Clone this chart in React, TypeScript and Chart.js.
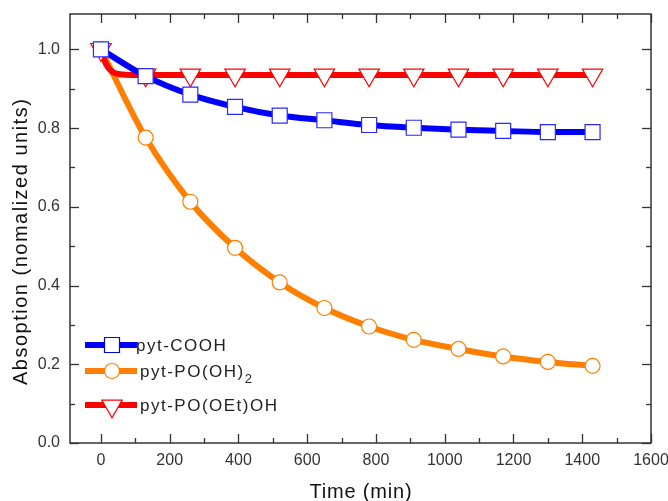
import React, { useEffect, useRef } from 'react';
import { Chart, registerables } from 'chart.js';

Chart.register(...registerables);

// ---- data ----
const timeMin = [0, 130, 260, 390, 520, 650, 780, 910, 1040, 1170, 1300, 1430];
const coohValues = [1.0, 0.932, 0.885, 0.854, 0.832, 0.82, 0.808, 0.801, 0.796, 0.793, 0.79, 0.79];
const poOH2Values = [1.0, 0.776, 0.613, 0.496, 0.408, 0.343, 0.296, 0.262, 0.239, 0.22, 0.206, 0.196];
const poOEtOHValues = [1.0, 0.935, 0.935, 0.935, 0.935, 0.935, 0.935, 0.935, 0.935, 0.935, 0.935, 0.935];
// fitted curve for pyt-PO(OEt)OH (sharp drop right after t=0)
const poOEtOHFitTime = [0, 10, 20, 35, 55, 90, 1430];
const poOEtOHFitValues = [1.0, 0.972, 0.955, 0.942, 0.937, 0.935, 0.935];

const xTickValues = [0, 200, 400, 600, 800, 1000, 1200, 1400, 1600];
const xMinorTicks = [100, 300, 500, 700, 900, 1100, 1300, 1500];
const yTickValues = [0, 0.2, 0.4, 0.6, 0.8, 1.0];
const yMinorTicks = [0.1, 0.3, 0.5, 0.7, 0.9];

const seriesNames = ['pyt-COOH', 'pyt-PO(OH)', 'pyt-PO(OEt)OH'];
const seriesSubscripts = ['', '2', ''];
const seriesColors = ['#0000ff', '#ff7f00', '#ff0000'];
const seriesMarkers = ['rect', 'circle', 'triangleDown'];

const xTitle = 'Time (min)';
const yTitle = 'Absoption (nomalized units)';

const FONT = '"Liberation Sans", Arial, sans-serif';

function drawMarker(ctx: CanvasRenderingContext2D, kind: string, x: number, y: number, color: string) {
  ctx.save();
  ctx.fillStyle = '#ffffff';
  ctx.strokeStyle = color;
  ctx.lineWidth = 1.2;
  ctx.beginPath();
  if (kind === 'rect') {
    ctx.rect(x - 7.5, y - 7.5, 15, 15);
  } else if (kind === 'circle') {
    ctx.arc(x, y, 7.5, 0, Math.PI * 2);
  } else {
    const r = 11.8;
    ctx.moveTo(x - r * 0.866, y - r / 2);
    ctx.lineTo(x + r * 0.866, y - r / 2);
    ctx.lineTo(x, y + r);
    ctx.closePath();
  }
  ctx.fill();
  ctx.stroke();
  ctx.restore();
}

const framePlugin = {
  id: 'frameAndTicks',
  afterDraw(chart: any) {
    const { ctx, chartArea, scales } = chart;
    const { left, right, top, bottom } = chartArea;
    const xs = scales.x;
    const ys = scales.y;
    ctx.save();
    ctx.strokeStyle = '#333333';
    ctx.lineWidth = 1.5;
    ctx.strokeRect(left, top, right - left, bottom - top);
    ctx.lineWidth = 1.3;
    const seg = (x1: number, y1: number, x2: number, y2: number) => {
      ctx.beginPath();
      ctx.moveTo(x1, y1);
      ctx.lineTo(x2, y2);
      ctx.stroke();
    };
    xTickValues.forEach((v) => {
      const px = Math.round(xs.getPixelForValue(v)) + 0.5;
      seg(px, bottom, px, bottom - 9);
      seg(px, top, px, top + 9);
    });
    xMinorTicks.forEach((v) => {
      const px = Math.round(xs.getPixelForValue(v)) + 0.5;
      seg(px, bottom, px, bottom - 5);
      seg(px, top, px, top + 5);
    });
    yTickValues.forEach((v) => {
      const py = Math.round(ys.getPixelForValue(v)) + 0.5;
      seg(left, py, left + 9, py);
      seg(right, py, right - 9, py);
    });
    yMinorTicks.forEach((v) => {
      const py = Math.round(ys.getPixelForValue(v)) + 0.5;
      seg(left, py, left + 5, py);
      seg(right, py, right - 5, py);
    });

    // axis titles
    ctx.fillStyle = '#111111';
    ctx.textAlign = 'center';
    ctx.textBaseline = 'alphabetic';
    ctx.font = `20px ${FONT}`;
    (ctx as any).letterSpacing = '0.8px';
    ctx.fillText(xTitle, (left + right) / 2 + 0.5, bottom + 55);

    ctx.save();
    ctx.translate(left - 43, bottom - 58);
    ctx.rotate(-Math.PI / 2);
    ctx.textAlign = 'left';
    ctx.font = `20px ${FONT}`;
    (ctx as any).letterSpacing = '1.5px';
    ctx.fillText(yTitle, 0, 0);
    ctx.restore();
    (ctx as any).letterSpacing = '0px';
    ctx.restore();
  },
};

const legendPlugin = {
  id: 'innerLegend',
  afterDatasetsDraw(chart: any) {
    const { ctx, chartArea } = chart;
    const left = chartArea.left;
    const rowsY = [chartArea.top + 331, chartArea.top + 357, chartArea.top + 391];
    const lineX0 = left + 15;
    const lineX1 = left + 67;
    const markX = left + 42;
    const textX = [left + 66, left + 70, left + 70];
    ctx.save();
    seriesNames.forEach((name, i) => {
      const y = rowsY[i];
      ctx.strokeStyle = seriesColors[i];
      ctx.lineWidth = 6;
      ctx.beginPath();
      ctx.moveTo(lineX0, y);
      ctx.lineTo(lineX1, y);
      ctx.stroke();
      drawMarker(ctx, seriesMarkers[i], markX, seriesMarkers[i] === 'triangleDown' ? y + 1 : y, seriesColors[i]);
      ctx.fillStyle = '#222222';
      ctx.textBaseline = 'middle';
      ctx.textAlign = 'left';
      (ctx as any).letterSpacing = '1.5px';
      ctx.font = `17px ${FONT}`;
      ctx.fillText(name, textX[i], y + 1);
      if (seriesSubscripts[i]) {
        const w = ctx.measureText(name).width;
        ctx.font = `13px ${FONT}`;
        ctx.fillText(seriesSubscripts[i], textX[i] + w, y + 8);
      }
      (ctx as any).letterSpacing = '0px';
    });
    ctx.restore();
  },
};

function pts(xs: number[], ys: number[]) {
  return xs.map((x, i) => ({ x, y: ys[i] }));
}

export default function App() {
  const canvasRef = useRef<HTMLCanvasElement | null>(null);

  useEffect(() => {
    const canvas = canvasRef.current;
    if (!canvas) return;
    const chart = new Chart(canvas, {
      type: 'line',
      data: {
        datasets: [
          {
            label: seriesNames[0],
            data: pts(timeMin, coohValues),
            borderColor: seriesColors[0],
            borderWidth: 6,
            cubicInterpolationMode: 'monotone',
            pointStyle: 'rect',
            pointRadius: 10.6,
            pointBackgroundColor: '#ffffff',
            pointBorderColor: '#2a2aff',
            pointBorderWidth: 1.2,
          },
          {
            label: seriesNames[2] + ' markers',
            data: pts(timeMin, poOEtOHValues),
            showLine: false,
            pointStyle: 'triangle',
            rotation: 180,
            pointRadius: 11.8,
            pointBackgroundColor: '#ffffff',
            pointBorderColor: seriesColors[2],
            pointBorderWidth: 1.2,
          },
          {
            label: seriesNames[2],
            data: pts(poOEtOHFitTime, poOEtOHFitValues),
            borderColor: seriesColors[2],
            borderWidth: 6,
            cubicInterpolationMode: 'monotone',
            pointRadius: 0,
          },
          {
            label: seriesNames[1],
            data: pts(timeMin, poOH2Values),
            borderColor: seriesColors[1],
            borderWidth: 6,
            cubicInterpolationMode: 'monotone',
            pointStyle: 'circle',
            pointRadius: 7.5,
            pointBackgroundColor: '#ffffff',
            pointBorderColor: seriesColors[1],
            pointBorderWidth: 1.2,
          },
        ],
      },
      options: {
        responsive: false,
        animation: false,
        events: [],
        layout: { autoPadding: false, padding: { top: 14, right: 17, left: 0, bottom: 0 } },
        plugins: {
          legend: { display: false },
          tooltip: { enabled: false },
          title: { display: false },
        },
        scales: {
          x: {
            type: 'linear',
            min: -90,
            max: 1600,
            grid: { display: false, drawTicks: false },
            border: { display: false },
            afterBuildTicks: (scale: any) => {
              scale.ticks = xTickValues.map((v) => ({ value: v }));
            },
            afterFit: (scale: any) => {
              scale.height = 58;
              scale.paddingLeft = 0;
              scale.paddingRight = 0;
              scale.paddingTop = 0;
              scale.paddingBottom = 0;
            },
            ticks: {
              autoSkip: false,
              maxRotation: 0,
              padding: 8,
              color: '#333333',
              font: { family: FONT, size: 16 },
              callback: (v: any) => String(v),
            },
            title: { display: false },
          },
          y: {
            type: 'linear',
            min: 0,
            max: 1.09,
            grid: { display: false, drawTicks: false },
            border: { display: false },
            afterBuildTicks: (scale: any) => {
              scale.ticks = yTickValues.map((v) => ({ value: v }));
            },
            afterFit: (scale: any) => {
              scale.width = 70;
              scale.paddingLeft = 0;
              scale.paddingRight = 0;
              scale.paddingTop = 0;
              scale.paddingBottom = 0;
            },
            ticks: {
              autoSkip: false,
              padding: 10,
              color: '#333333',
              font: { family: FONT, size: 16 },
              callback: (v: any) => Number(v).toFixed(1),
            },
            title: { display: false },
          },
        },
      },
      plugins: [legendPlugin, framePlugin],
    } as any);
    return () => chart.destroy();
  }, []);

  return (
    <div style={{ position: 'fixed', left: 0, top: 0, width: 668, height: 501, background: '#ffffff' }}>
      <canvas ref={canvasRef} width={668} height={501} style={{ display: 'block' }} />
    </div>
  );
}
